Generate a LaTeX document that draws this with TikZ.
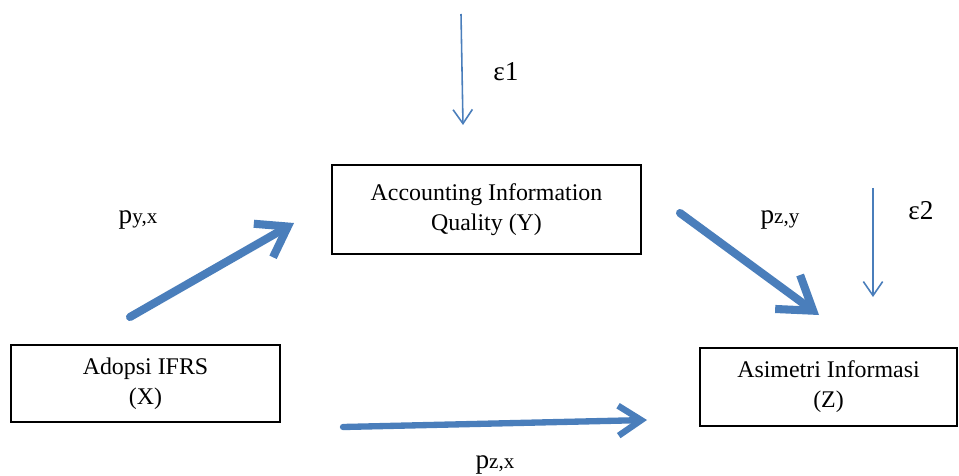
\documentclass[tikz,border=0pt]{standalone}
\usepackage{fontspec}
\setmainfont{Liberation Serif}
\usepackage{tikz}
\usetikzlibrary{positioning}
\usetikzlibrary{arrows.meta}

\definecolor{pathblue}{RGB}{74,126,187}
\tikzset{
    box/.style={draw, line width=1.1pt, rectangle, align=center, font=\fontsize{13.6}{17}\selectfont},
    lbl/.style={font=\fontsize{15.5}{18}\selectfont},
    path/.style={pathblue, line width=4.6pt, line cap=round},
    err/.style={pathblue, line width=0.9pt, -{Straight Barb[length=8pt, width=11pt, line width=0.9pt]}}
}
\newcommand{\sub}[1]{{\fontsize{12}{14}\selectfont #1}}

\begin{document}
\begin{tikzpicture}[x=0.02cm, y=-0.02cm]
    \useasboundingbox (0,0) rectangle (959,476);
    \node (y) at (486.5,209.5) [box, minimum width=309*0.02cm, minimum height=89*0.02cm] {Accounting Information\\Quality (Y)};
    \node (x) at (145.5,383.5) [box, minimum width=269*0.02cm, minimum height=77*0.02cm] {Adopsi IFRS\\(X)};
    \node (z) at (828.5,387) [box, minimum width=257*0.02cm, minimum height=78*0.02cm] {Asimetri Informasi\\(Z)};
    % ends of the paths
    \coordinate (xy0) at (130,317);
    \coordinate (xy1) at (294,223);
    \coordinate (yz0) at (680,213);
    \coordinate (yz1) at (819,315);
    \coordinate (xz0) at (343,427);
    \coordinate (xz1) at (647,420);
    \coordinate (e10) at (461,14);
    \coordinate (e11) at (463,125);
    \coordinate (e20) at (873,188);
    \coordinate (e21) at (873,297);
    \draw[path, -{Straight Barb[length=16pt, width=22pt, line width=4.6pt]}] (xy0) -- (xy1);
    \draw[path, -{Straight Barb[length=18pt, width=24pt, line width=4.6pt]}] (yz0) -- (yz1);
    \draw[path, line width=3.6pt, -{Straight Barb[length=13pt, width=17pt, line width=3.6pt]}] (xz0) -- (xz1);
    \draw[err] (e10) -- (e11);
    \draw[err] (e20) -- (e21);
    % labels
    \node (pyx) at (138,220) [lbl] {p\sub{y,x}};
    \node (pzy) at (780,220) [lbl] {p\sub{z,y}};
    \node (pzx) at (495,465) [lbl] {p\sub{z,x}};
    \node (e1) at (506,72) [lbl] {ε1};
    \node (e2) at (921,211) [lbl] {ε2};
\end{tikzpicture}
\end{document}
